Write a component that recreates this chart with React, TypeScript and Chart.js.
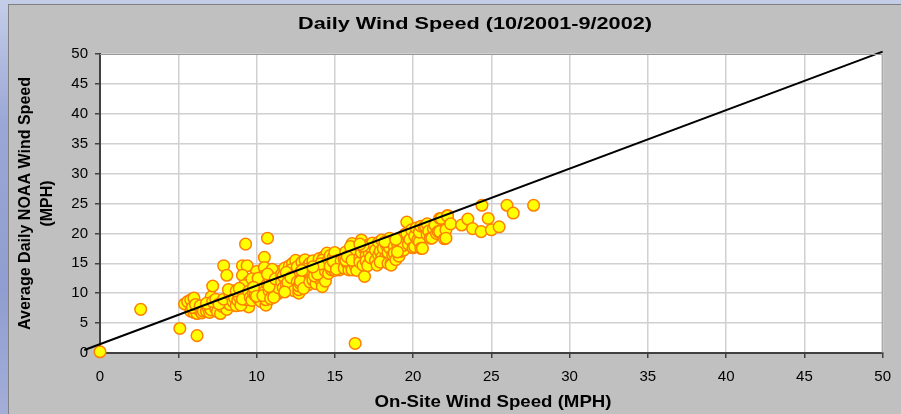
import React, { useEffect, useRef } from "react";
import { Chart, registerables } from "chart.js";

Chart.register(...registerables);

const chartTitle = "Daily Wind Speed (10/2001-9/2002)";
const xAxisTitle = "On-Site Wind Speed (MPH)";
const yAxisTitleLines = ["Average Daily NOAA Wind Speed", "(MPH)"];

const xTicks = [0, 5, 10, 15, 20, 25, 30, 35, 40, 45, 50];
const yTicks = [0, 5, 10, 15, 20, 25, 30, 35, 40, 45, 50];

// [on-site mph, NOAA mph] daily pairs
const lowOutliers: [number, number][] = [
  [0, 0.2], [2.6, 7.3], [5.1, 4.1], [6.2, 2.9], [16.3, 1.6],
];

const band5to8: [number, number][] = [
  [5.4, 8.2], [5.6, 8.6], [5.8, 8.9], [6.0, 9.2], [5.8, 7.0], [6.0, 6.8], [6.2, 6.6], [6.3, 7.3],
  [6.5, 6.7], [5.9, 7.6], [6.1, 8.1], [6.4, 7.9], [6.6, 7.0], [6.8, 7.0], [6.9, 7.6], [7.0, 6.8],
  [7.1, 9.4], [7.2, 11.2], [7.1, 7.2], [7.3, 8.0], [7.4, 7.4], [6.8, 8.3], [7.5, 6.9], [7.2, 8.6],
  [7.4, 9.0], [7.7, 6.6], [7.8, 7.8], [7.9, 14.6], [8.1, 13.0], [8.1, 7.3], [8.0, 8.5], [8.2, 9.4],
  [8.3, 8.1], [8.4, 10.0], [8.5, 10.4], [7.6, 8.2], [7.9, 9.0], [8.3, 9.8], [8.5, 8.6], [8.2, 10.6],
];

const band8to11: [number, number][] = [
  [8.6, 9.2], [8.7, 7.9], [8.8, 8.8], [8.9, 9.4], [9.0, 10.2], [9.1, 14.6], [9.4, 14.6], [9.1, 13.0],
  [9.3, 18.2], [9.2, 8.3], [9.3, 9.6], [9.4, 10.9], [9.5, 7.7], [9.5, 11.9], [8.7, 10.4], [9.0, 8.0],
  [9.2, 11.3], [8.9, 10.8], [9.4, 8.9], [9.1, 9.0], [9.5, 10.3], [9.6, 9.3], [9.7, 8.8], [9.8, 10.0],
  [9.9, 11.5], [10.0, 13.6], [10.0, 10.5], [10.1, 9.1], [10.2, 12.0], [10.3, 8.6], [10.4, 11.0],
  [10.5, 16.0], [10.5, 14.3], [10.4, 12.8], [10.6, 8.0], [10.6, 8.9], [9.7, 12.4], [9.9, 9.7],
  [10.2, 10.8], [10.3, 11.8], [10.1, 12.5], [10.5, 10.2], [9.8, 11.0], [10.0, 9.5], [10.4, 9.6],
  [10.7, 19.2], [10.7, 11.5], [10.8, 10.4], [10.8, 12.6], [10.9, 13.4], [11.0, 9.5], [11.0, 11.9],
  [11.1, 10.0], [11.1, 12.8], [11.2, 11.1], [11.2, 13.0], [11.3, 9.8], [11.3, 10.6], [11.4, 12.2],
  [11.4, 13.6], [11.5, 11.4], [10.9, 9.1], [11.0, 14.0], [11.5, 10.2], [10.7, 13.2], [11.3, 11.8],
  [11.1, 9.3], [11.4, 10.9], [10.8, 11.1], [11.2, 12.4],
];

const band11to14: [number, number][] = [
  [11.6, 11.9], [11.6, 13.2], [11.7, 10.9], [11.8, 12.5], [11.8, 14.2], [11.9, 11.5], [12.0, 13.0],
  [12.0, 10.6], [12.1, 12.0], [12.1, 14.6], [12.2, 11.3], [12.3, 12.8], [12.3, 15.0], [12.4, 13.7],
  [12.4, 11.0], [12.5, 15.5], [12.5, 12.3], [11.7, 12.9], [12.2, 13.9], [12.0, 11.8], [11.9, 13.5],
  [12.4, 10.4], [12.2, 12.6], [11.8, 10.2], [12.6, 14.4], [12.6, 11.9], [12.7, 10.0], [12.7, 10.6],
  [12.7, 11.2], [12.8, 11.6], [12.8, 13.4], [12.9, 15.2], [12.9, 12.5], [13.0, 14.1], [13.0, 11.8],
  [13.1, 13.0], [13.1, 15.6], [13.2, 12.3], [13.3, 14.6], [13.3, 11.4], [13.4, 13.3], [13.4, 15.0],
  [13.5, 14.4], [13.5, 12.7], [12.8, 12.0], [13.2, 14.0], [13.0, 10.8], [13.4, 11.9], [12.9, 13.8],
  [13.6, 12.2], [13.6, 15.4], [13.7, 13.9], [13.8, 13.6], [13.8, 11.6], [13.9, 14.8], [14.0, 15.8],
  [14.0, 12.6], [14.1, 12.2], [14.1, 13.6], [14.2, 11.1], [14.2, 14.4], [14.3, 16.1], [14.3, 13.1],
  [14.4, 15.2], [14.4, 12.0], [14.5, 16.7], [14.5, 14.0], [13.7, 12.9], [14.0, 14.3], [14.2, 15.5],
  [13.9, 13.2], [14.4, 13.7], [14.1, 14.9], [13.6, 14.4],
];

const band14to17: [number, number][] = [
  [14.6, 15.6], [14.6, 13.3], [14.7, 16.3], [14.8, 14.8], [14.8, 13.9], [14.9, 14.4], [14.9, 16.0],
  [15.0, 15.2], [15.0, 13.8], [15.1, 15.0], [15.1, 16.6], [15.2, 14.3], [15.3, 15.8], [15.3, 13.9],
  [15.4, 16.2], [15.4, 14.6], [15.5, 16.4], [15.5, 15.0], [14.7, 14.5], [15.0, 16.8], [15.2, 15.5],
  [14.9, 15.3], [15.4, 15.4], [15.1, 14.0], [15.6, 15.7], [15.6, 14.2], [15.7, 16.9], [15.8, 15.0],
  [15.9, 15.3], [15.9, 13.9], [16.0, 16.5], [16.0, 14.8], [16.1, 18.3], [16.1, 13.9], [16.2, 15.9],
  [16.2, 17.1], [16.3, 14.6], [16.4, 16.2], [16.4, 15.1], [16.5, 17.5], [16.5, 14.4], [15.7, 15.5],
  [16.0, 17.8], [16.2, 16.3], [15.8, 16.1], [16.4, 13.8], [16.1, 15.5], [16.6, 16.0], [16.6, 15.2],
  [16.7, 18.9], [16.7, 16.8], [16.8, 14.7], [16.9, 12.8], [16.9, 17.4], [17.0, 16.3], [17.0, 15.4],
  [17.1, 18.0], [17.2, 16.7], [17.2, 15.0], [17.3, 17.6], [17.4, 16.2], [17.4, 18.4], [17.5, 15.6],
  [16.8, 17.9], [17.1, 14.6], [17.3, 15.9], [16.6, 18.2],
];

const band17to20: [number, number][] = [
  [17.6, 17.2], [17.6, 15.5], [17.7, 14.7], [17.8, 18.5], [17.8, 16.4], [17.9, 17.0], [18.0, 18.9],
  [18.0, 16.0], [18.1, 17.5], [18.2, 15.8], [18.3, 15.5], [18.3, 18.0], [18.4, 16.8], [18.5, 17.6],
  [18.5, 19.2], [17.9, 15.2], [18.2, 18.6], [18.4, 15.0], [18.6, 15.0], [18.6, 14.7], [18.7, 16.4],
  [18.8, 17.8], [18.8, 16.7], [18.9, 15.6], [19.0, 18.3], [19.1, 18.6], [19.1, 16.2], [19.2, 17.0],
  [19.3, 19.4], [19.4, 17.2], [19.4, 18.0], [19.5, 19.9], [19.0, 16.9], [18.9, 19.0],
];

const band20to28: [number, number][] = [
  [19.6, 21.9], [19.6, 20.0], [19.7, 18.2], [19.8, 19.0], [19.9, 20.6], [20.0, 17.6], [20.1, 17.8],
  [20.1, 19.6], [20.2, 20.9], [20.3, 18.9], [20.4, 18.6], [20.4, 20.2], [20.5, 21.2], [20.5, 17.5],
  [20.6, 17.5], [20.7, 21.1], [20.8, 21.1], [20.9, 21.6], [20.9, 19.8], [21.0, 20.4], [21.1, 19.2],
  [21.2, 19.2], [21.3, 20.8], [21.4, 21.4], [21.5, 20.0], [21.6, 20.3], [21.7, 22.5], [21.7, 20.3],
  [21.8, 22.5], [22.0, 19.1], [22.1, 20.6], [22.1, 19.2], [22.2, 23.0], [22.2, 22.9], [22.4, 21.6],
  [23.1, 21.4], [23.5, 22.4], [23.8, 20.8], [24.35, 20.3], [24.4, 24.7], [24.8, 22.5], [25.0, 20.6],
  [25.5, 21.1], [26.0, 24.7], [26.4, 23.4], [27.7, 24.7],
];

// trend line end points [x, y]
const trendLine: [number, number][] = [
  [-1, 0.5],
  [50, 50.4],
];

const FONT = "'Liberation Sans', Arial, sans-serif";

function drawFitText(
  ctx: CanvasRenderingContext2D,
  text: string,
  x: number,
  y: number,
  font: string,
  targetLen: number,
  rotate: boolean
) {
  ctx.save();
  ctx.font = font;
  ctx.fillStyle = "#000";
  ctx.textAlign = "center";
  ctx.textBaseline = "alphabetic";
  const w = ctx.measureText(text).width;
  ctx.translate(x, y);
  if (rotate) ctx.rotate(-Math.PI / 2);
  ctx.scale(targetLen / w, 1);
  ctx.fillText(text, 0, 0);
  ctx.restore();
}

const backgroundPlugin = {
  id: "bgPlugin",
  beforeDraw(chart: any) {
    const { ctx, width, height, chartArea } = chart;
    ctx.save();
    ctx.fillStyle = "#C0C0C0";
    ctx.fillRect(0, 0, width, height);
    ctx.strokeStyle = "#808080";
    ctx.lineWidth = 1;
    ctx.strokeRect(0.5, 0.5, width, height);
    ctx.fillStyle = "#FFFFFF";
    ctx.fillRect(chartArea.left, chartArea.top, chartArea.right - chartArea.left, chartArea.bottom - chartArea.top);
    ctx.restore();
  },
  afterDraw(chart: any) {
    const { ctx, chartArea } = chart;
    ctx.save();
    ctx.strokeStyle = "#999999";
    ctx.lineWidth = 1;
    ctx.beginPath();
    ctx.moveTo(chartArea.left, chartArea.top + 0.5);
    ctx.lineTo(chartArea.right - 0.5, chartArea.top + 0.5);
    ctx.lineTo(chartArea.right - 0.5, chartArea.bottom);
    ctx.stroke();
    ctx.restore();
    drawFitText(ctx, chartTitle, 467, 25, `bold 17px ${FONT}`, 354, false);
    drawFitText(ctx, xAxisTitle, 485, 403, `bold 17px ${FONT}`, 237, false);
    drawFitText(ctx, yAxisTitleLines[0], 21.5, 199.5, `bold 16px ${FONT}`, 253, true);
    drawFitText(ctx, yAxisTitleLines[1], 43.5, 199.5, `bold 16px ${FONT}`, 46, true);
  },
};

export default function App() {
  const ref = useRef<HTMLCanvasElement | null>(null);

  useEffect(() => {
    if (!ref.current) return;
    const toPts = (arr: [number, number][]) => arr.map(([x, y]) => ({ x, y }));
    const allPoints = [
      ...lowOutliers,
      ...band5to8,
      ...band8to11,
      ...band11to14,
      ...band14to17,
      ...band17to20,
      ...band20to28,
    ];
    const chart = new Chart(ref.current, {
      type: "scatter",
      data: {
        datasets: [
          {
            type: "line",
            label: "Trend",
            data: toPts(trendLine),
            borderColor: "#000000",
            borderWidth: 2,
            pointRadius: 0,
            fill: false,
            clip: false as any,
            order: 0,
          } as any,
          {
            label: "Daily",
            data: toPts(allPoints),
            backgroundColor: "#FFFF00",
            borderColor: "#FF8000",
            borderWidth: 1.5,
            pointRadius: 5.8,
            clip: false as any,
            order: 1,
          } as any,
        ],
      },
      options: {
        responsive: false,
        animation: false,
        layout: { padding: { left: 0, right: 16, top: 50, bottom: 0 } },
        plugins: {
          legend: { display: false },
          tooltip: { enabled: false },
          title: { display: false },
        },
        scales: {
          x: {
            type: "linear",
            min: 0,
            max: 50,
            afterBuildTicks: (s: any) => {
              s.ticks = xTicks.map((v) => ({ value: v }));
            },
            afterFit: (s: any) => {
              s.height = 61;
            },
            ticks: {
              color: "#000",
              font: { family: FONT, size: 15 },
              padding: 10,
              maxRotation: 0,
              autoSkip: false,
            },
            grid: {
              color: "#D0D0D0",
              lineWidth: 1.5,
              tickColor: "#404040",
              tickLength: 5,
              tickWidth: 1.5,
            } as any,
            border: { color: "#404040", width: 2 },
          },
          y: {
            type: "linear",
            min: 0,
            max: 50,
            afterBuildTicks: (s: any) => {
              s.ticks = yTicks.map((v) => ({ value: v }));
            },
            afterFit: (s: any) => {
              s.width = 92;
            },
            ticks: {
              color: "#000",
              font: { family: FONT, size: 15 },
              padding: 7,
              autoSkip: false,
            },
            grid: {
              color: "#D0D0D0",
              lineWidth: 1.5,
              tickColor: "#404040",
              tickLength: 5,
              tickWidth: 1.5,
            } as any,
            border: { color: "#404040", width: 2 },
          },
        },
      },
      plugins: [backgroundPlugin],
    });
    return () => chart.destroy();
  }, []);

  return (
    <div
      style={{
        position: "fixed",
        left: 0,
        top: 0,
        width: 901,
        height: 414,
        overflow: "hidden",
        background: "linear-gradient(180deg, #c4cde8 0%, #9aa7d6 30%, #8f9dd0 70%, #a3aed8 100%)",
      }}
    >
      <canvas
        ref={ref}
        width={893}
        height={410}
        style={{ position: "absolute", left: 8, top: 4, width: 893, height: 410 }}
      />
    </div>
  );
}
